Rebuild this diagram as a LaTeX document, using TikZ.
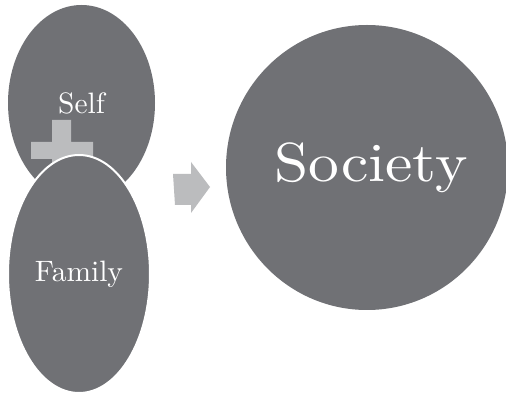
\documentclass[tikz,border=0pt]{standalone}
\usetikzlibrary{shapes.geometric}
\definecolor{blobgray}{HTML}{707175}
\definecolor{lightgray}{HTML}{BBBCBE}
\tikzset{
  blob/.style={ellipse, fill=blobgray, inner sep=0pt, text=white},
  token/.style={fill=lightgray, draw=none}
}
\begin{document}
\begin{tikzpicture}[x=1pt,y=-1pt]
  \useasboundingbox[fill=white] (0,0) rectangle (506,395);

  % upper ellipse
  \node[blob, minimum width=147pt, minimum height=196pt] (self) at (81.5,103) {\scalebox{2.95}{Self}};

  % plus sign between the two ellipses
  \fill[token] (52,120) -- (71,120) -- (71,142) -- (93,142) -- (93,159)
    -- (71,159) -- (71,181) -- (52,181) -- (52,159) -- (31,159) -- (31,142)
    -- (52,142) -- cycle;

  % lower ellipse with a white rim over the upper one
  \node[blob, draw=white, line width=2pt, minimum width=142pt, minimum height=238pt] (family) at (79,274) {\scalebox{2.95}{Family}};

  % block arrow
  \fill[token] (173,174) -- (191,174) -- (191,162) -- (210,187)
    -- (191,213) -- (191,205) -- (175,205) -- cycle;

  % result circle
  \node[blob, minimum width=282pt, minimum height=285pt] (society) at (367,167.5) {};
  \node[text=white, inner sep=0pt] (societytext) at ([xshift=4pt,yshift=-0.5pt]society.center) {\scalebox{6.15}[5.5]{Society}};
\end{tikzpicture}
\end{document}
